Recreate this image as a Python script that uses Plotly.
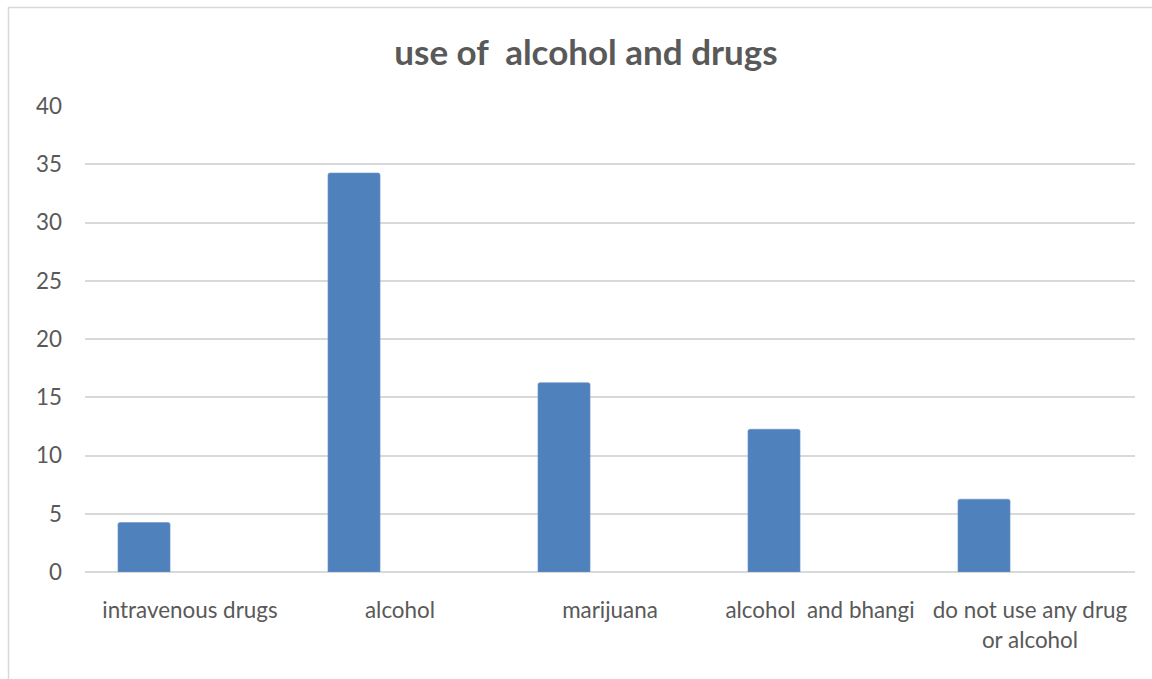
import plotly.graph_objects as go

# Survey responses: use of alcohol and drugs
categories = [
    "intravenous drugs",
    "alcohol",
    "marijuana",
    "alcohol  and bhangi",
    "do not use any drug<br>or alcohol",
]
values = [4.25, 34.25, 16.25, 12.25, 6.25]
y_ticks = [0, 5, 10, 15, 20, 25, 30, 35, 40]

W, H = 1152, 679
L, R, T, B = 85, 17, 106, 107
plot_w = W - L - R
plot_h = H - T - B

text_color = "#595959"
grid_color = "#D9D9D9"
font_family = "Lato, 'Open Sans', sans-serif"
label_size = 22.4

fig = go.Figure()
fig.add_trace(go.Bar(
    x=categories,
    y=values,
    marker=dict(color="#4F81BD", line=dict(color="#6E96C8", width=0.6), cornerradius=2),
    width=0.248,
    offset=-0.343,
    hoverinfo="x+y",
))

def px_to_paper_x(px):
    return (px - L) / plot_w

def px_to_paper_y(py):
    return (H - B - py) / plot_h

# outer chart frame
fig.add_shape(
    type="rect", xref="paper", yref="paper",
    x0=px_to_paper_x(8.5), x1=px_to_paper_x(1250),
    y0=px_to_paper_y(720), y1=px_to_paper_y(7.5),
    line=dict(color=grid_color, width=1.5),
    fillcolor="rgba(0,0,0,0)", layer="below",
)

fig.update_layout(
    width=W, height=H,
    margin=dict(l=L, r=R, t=T, b=B, autoexpand=False),
    paper_bgcolor="white",
    plot_bgcolor="white",
    showlegend=False,
    font=dict(family=font_family, color=text_color, size=label_size),
    title=dict(
        text="<b>use of  alcohol and drugs</b>",
        xref="paper", x=px_to_paper_x(586), xanchor="center",
        yref="container", y=1 - 53 / H, yanchor="middle",
        font=dict(family=font_family, size=35, color=text_color),
    ),
    xaxis=dict(
        type="category",
        showgrid=False,
        showline=False,
        ticks="",
        ticklabelstandoff=23,
        tickfont=dict(size=label_size, color=text_color),
        range=[-0.5, len(categories) - 0.5],
        fixedrange=True,
    ),
    yaxis=dict(
        range=[0, 40],
        tickvals=y_ticks,
        showgrid=True,
        gridcolor=grid_color,
        gridwidth=1.5,
        zeroline=True,
        zerolinecolor=grid_color,
        zerolinewidth=1.5,
        showline=False,
        ticks="",
        ticklabelstandoff=22,
        tickfont=dict(size=label_size, color=text_color),
        fixedrange=True,
    ),
)

fig.write_html("out.html")
